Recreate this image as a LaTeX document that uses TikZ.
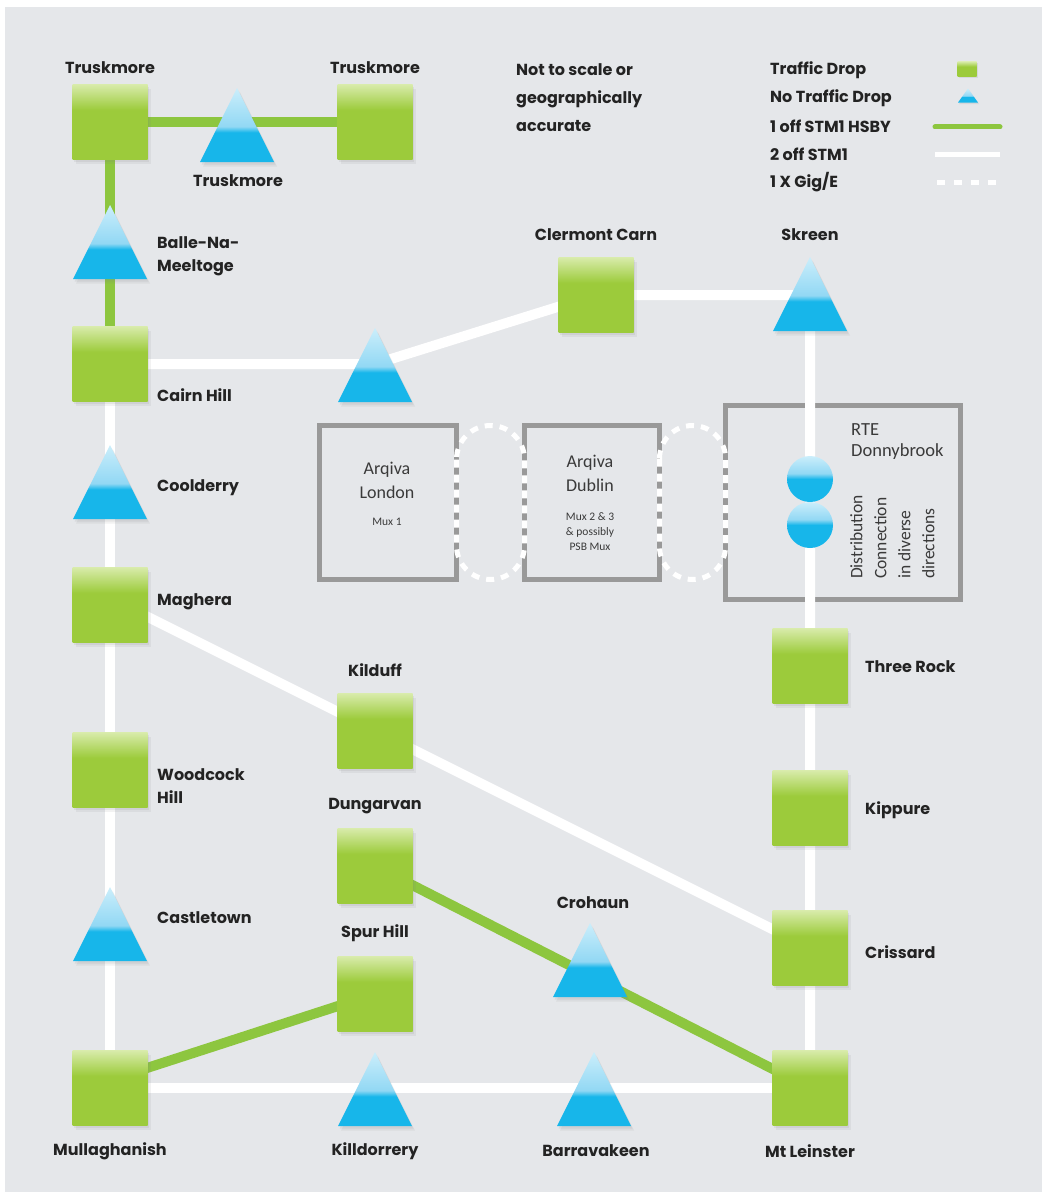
\documentclass[tikz,border=0pt]{standalone}
\usepackage{fontspec}
\newfontfamily\lblf{Poppins}
\newfontfamily\boxf{Carlito}
\usetikzlibrary{shapes.geometric,shadows}
\definecolor{bgc}{HTML}{E5E7EA}
\definecolor{sqg}{HTML}{9CCB3B}
\definecolor{sqgl}{HTML}{D8EBAA}
\definecolor{lgreen}{HTML}{8DC63F}
\definecolor{tb}{HTML}{17B6EA}
\definecolor{tbm}{HTML}{92D8F4}
\definecolor{tbl}{HTML}{CBEEFB}
\definecolor{boxg}{HTML}{999999}
\definecolor{txt}{HTML}{232323}
\definecolor{btxt}{HTML}{3A3A3A}
\pgfdeclareverticalshading{sqshade}{100bp}{color(0bp)=(sqg); color(58bp)=(sqg); color(75bp)=(sqgl); color(100bp)=(sqgl)}
\pgfdeclareverticalshading{trishade}{100bp}{color(0bp)=(tb); color(45bp)=(tb); color(49bp)=(tbm); color(75bp)=(tbl); color(100bp)=(tbl)}
\pgfdeclareverticalshading{cirshade}{100bp}{color(0bp)=(tb); color(50bp)=(tb); color(56bp)=(tbm); color(75bp)=(tbl); color(100bp)=(tbl)}
\pgfdeclarelayer{back}
\pgfdeclarelayer{bg}
\pgfdeclarelayer{mid}
\pgfsetlayers{back,bg,mid,main}
\tikzset{
  shad/.style={drop shadow={opacity=0.10, shadow xshift=3pt, shadow yshift=-4.5pt},
               drop shadow={opacity=0.12, shadow xshift=1.5pt, shadow yshift=-2.5pt}},
  sq/.style={rectangle, minimum width=75pt, minimum height=75pt, inner sep=0pt, outer sep=0pt,
             shade, shading=sqshade, shad},
  tri/.style={isosceles triangle, shape border rotate=90, isosceles triangle stretches,
              minimum width=74pt, minimum height=74pt, inner sep=0pt, outer sep=0pt,
              anchor=apex, shade, shading=trishade, shad},
  dcirc/.style={circle, minimum size=46pt, inner sep=0pt, shade, shading=cirshade},
  hsby/.style={draw=lgreen, line width=10pt},
  stm/.style={draw=white, line width=10pt, line join=round},
  gig/.style={draw=white, line width=5pt, dash pattern=on 8pt off 7pt},
  lbl/.style={font=\lblf\bfseries\fontsize{16}{23}\selectfont, text=txt, inner sep=0pt, align=left},
  boxn/.style={draw=boxg, line width=5pt, inner sep=0pt, outer sep=0pt},
  btx/.style={font=\boxf\fontsize{18}{22}\selectfont, text=btxt, inner sep=0pt, align=center},
  bsm/.style={font=\boxf\fontsize{11.5}{15}\selectfont, text=btxt, inner sep=0pt, align=center},
}
\begin{document}
\begin{tikzpicture}[x=1pt,y=-1pt]
\useasboundingbox (0,0) rectangle (1047,1196);
\begin{pgfonlayer}{back}
\fill[white] (0,0) rectangle (1047,1196);
\fill[bgc] (5,7) rectangle (1042,1192);
\end{pgfonlayer}

% boxes
\begin{pgfonlayer}{bg}
\node[boxn, minimum width=137pt, minimum height=154pt] (lon) at (388,502.5) {};
\node[boxn, minimum width=135pt, minimum height=154pt] (dub) at (592,502.5) {};
\node[boxn, minimum width=235pt, minimum height=194pt] (rte) at (843,502.5) {};
\end{pgfonlayer}
\draw[gig, rounded corners=34pt] (lon.north east) rectangle (dub.south west);
\draw[gig, rounded corners=33pt] (dub.north east) rectangle (dub.south east -| rte.west);

% squares
\node[sq] (strA) at (110,122) {};
\node[sq] (strB) at (375,122) {};
\node[sq] (cairn) at (110,364) {};
\node[sq] (clermont) at (596,295) {};
\node[sq] (maghera) at (110,605) {};
\node[sq] (kilduff) at (375,731) {};
\node[sq] (woodcock) at (110,770) {};
\node[sq] (dungarvan) at (375,866) {};
\node[sq] (spur) at (375,994) {};
\node[sq] (mull) at (110,1088) {};
\node[sq] (mtl) at (810,1088) {};
\node[sq] (crissard) at (810,948) {};
\node[sq] (kippure) at (810,808) {};
\node[sq] (threerock) at (810,666) {};

% triangles
\node[tri] (ttrusk) at (237,88) {};
\node[tri] (balle) at (110,205) {};
\node[tri] (tcairn) at (375,328) {};
\node[tri] (skreen) at (810,257) {};
\node[tri] (coolderry) at (110,445) {};
\node[tri] (castletown) at (110,887) {};
\node[tri] (crohaun) at (590,923) {};
\node[tri] (killdorrery) at (375,1052) {};
\node[tri] (barravakeen) at (594,1052) {};

% Donnybrook circles
\node[dcirc] (d1) at (810,479) {};
\node[dcirc] (d2) at (810,525) {};

% connectors
\begin{pgfonlayer}{mid}
\draw[hsby] (strA.center) -- (strB.center);
\draw[hsby] (strA.center) -- (cairn.center);
\draw[hsby] (dungarvan.center) -- (mtl.center);
\draw[hsby] ([yshift=8pt]mull.center) -- (spur.center);
\draw[stm] (cairn.center) -- (cairn.center -| tcairn.apex) -- (clermont.center)
  -- (clermont.center -| skreen.apex) -- (mtl.center);
\draw[stm] (cairn.center) -- (mull.center);
\draw[stm] ([yshift=7pt]maghera.center) -- (crissard.center);
\draw[stm] (mull.center) -- (mtl.center);
\end{pgfonlayer}

% labels
\node[lbl] at (110,68) {Truskmore};
\node[lbl] at (375,68) {Truskmore};
\node[lbl] at (238,181) {Truskmore};
\node[lbl, anchor=west] at (157,256) {Balle-Na-\\Meeltoge};
\node[lbl] at (596,235) {Clermont Carn};
\node[lbl] at (810,235) {Skreen};
\node[lbl, anchor=west] at (157,395) {Cairn Hill};
\node[lbl, anchor=west] at (157,488) {Coolderry};
\node[lbl, anchor=west] at (157,602) {Maghera};
\node[lbl] at (375,670) {Kilduff};
\node[lbl, anchor=west] at (157,786) {Woodcock\\Hill};
\node[lbl] at (375,806) {Dungarvan};
\node[lbl, anchor=west] at (157,918) {Castletown};
\node[lbl] at (593,903) {Crohaun};
\node[lbl] at (375,933) {Spur Hill};
\node[lbl, anchor=west] at (865,667) {Three Rock};
\node[lbl, anchor=west] at (865,810) {Kippure};
\node[lbl, anchor=west] at (865,952) {Crissard};
\node[lbl] at (110,1151) {Mullaghanish};
\node[lbl] at (375,1151) {Killdorrery};
\node[lbl] at (596,1151) {Barravakeen};
\node[lbl] at (810,1151) {Mt Leinster};
\node[lbl, anchor=west, font=\lblf\bfseries\fontsize{16}{28}\selectfont] at (516,98) {Not to scale or\\geographically\\accurate};

% box texts
\node[btx] at (387,470) {Arqiva};
\node[btx] at (387,492) {London};
\node[bsm] at (387,522) {Mux 1};
\node[btx] at (590,463) {Arqiva};
\node[btx] at (590,485) {Dublin};
\node[bsm] at (590,532) {Mux 2 \& 3\\\& possibly\\PSB Mux};
\node[btx, align=left, anchor=north west, font=\boxf\fontsize{18.5}{21}\selectfont] at (851,423) {RTE\\Donnybrook};
\node[btx, align=left, anchor=north west, rotate=90, font=\boxf\fontsize{17.5}{24}\selectfont] at (850,579) {Distribution\\Connection\\in diverse\\directions};

% legend
\node[lbl, anchor=west] at (770,70) {Traffic Drop};
\node[lbl, anchor=west] at (770,98) {No Traffic Drop};
\node[lbl, anchor=west] at (770,126) {1 off STM1 HSBY};
\node[lbl, anchor=west] at (770,154) {2 off STM1};
\node[lbl, anchor=west] at (770,182) {1 X Gig/E};
\node[rectangle, minimum width=19pt, minimum height=15pt, inner sep=0pt, shade, shading=sqshade,
  drop shadow={opacity=0.15, shadow xshift=1pt, shadow yshift=-1.5pt}] (legsq) at (967,69) {};
\node[isosceles triangle, shape border rotate=90, isosceles triangle stretches,
  minimum width=20pt, minimum height=14pt, inner sep=0pt, anchor=apex, shade, shading=trishade,
  drop shadow={opacity=0.15, shadow xshift=1pt, shadow yshift=-1.5pt}] (legtri) at (968,88) {};
\coordinate (lgA1) at (935,127); \coordinate (lgA2) at (1000,127);
\coordinate (lgB1) at (935,154); \coordinate (lgB2) at (1000,154);
\coordinate (lgC1) at (937,182); \coordinate (lgC2) at (1000,182);
\draw[hsby, line width=5pt, line cap=round] (lgA1) -- (lgA2);
\draw[stm, line width=5pt] (lgB1) -- (lgB2);
\draw[white, line width=5pt, dash pattern=on 8pt off 9pt] (lgC1) -- (lgC2);
\end{tikzpicture}
\end{document}
